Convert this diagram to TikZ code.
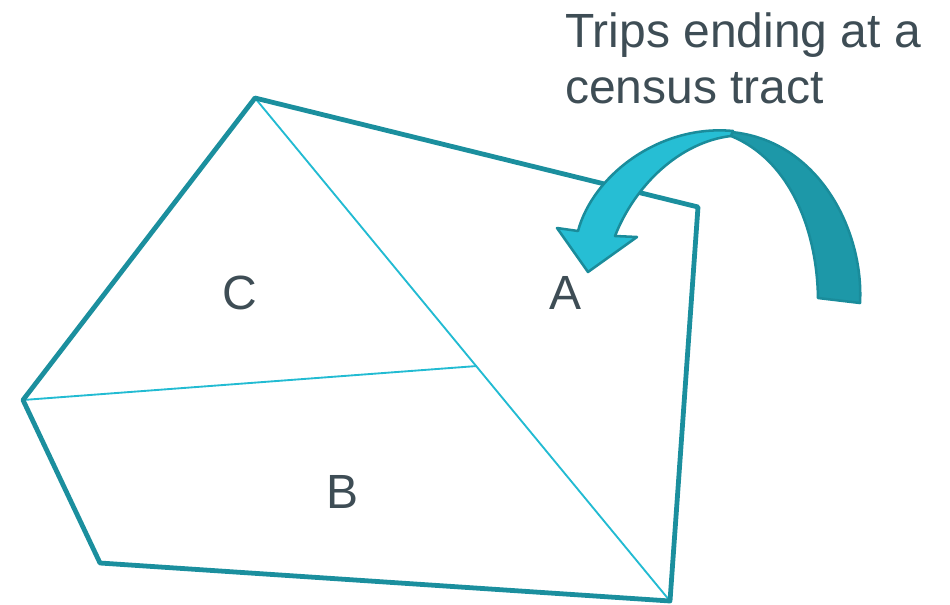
\documentclass[tikz,border=0pt]{standalone}
\usepackage{fontspec}
\setmainfont{Liberation Sans}
\definecolor{outl}{RGB}{27,143,158}
\definecolor{inl}{RGB}{34,187,210}
\definecolor{arrlight}{RGB}{38,190,212}
\definecolor{arrdark}{RGB}{29,152,168}
\definecolor{arrline}{RGB}{26,140,155}
\definecolor{txt}{RGB}{62,77,85}
\begin{document}
\begin{tikzpicture}[x=0.75pt,y=-0.75pt,
  outer/.style={draw=outl,line width=3.6pt,line join=round},
  inner/.style={draw=inl,line width=1.4pt},
  lbl/.style={text=txt,font=\fontsize{36}{43}\selectfont,inner sep=0pt},
  arrpart/.style={draw=arrline,line width=1.9pt,line join=round}]
\useasboundingbox (0,0) rectangle (950,604);
% vertices
\coordinate (p1) at (255,98);
\coordinate (p2) at (698,207);
\coordinate (p3) at (670,601);
\coordinate (p4) at (100,563);
\coordinate (p5) at (23,400);
\coordinate (m) at (477,366);
% inner lines
\draw[inner] (p1) -- (p3);
\draw[inner] (p5) -- (m);
% outline
\draw[outer] (p1) -- (p2) -- (p3) -- (p4) -- (p5) -- cycle;
% labels
\node[lbl] (c) at (240,293) {C};
\node[lbl] (a) at (566,293) {A};
\node[lbl] (b) at (343,492) {B};
\node[lbl,anchor=base west] (t1) at (565,47) {Trips ending at a};
\node[lbl,anchor=base west] (t2) at (565,103) {census tract};
% curved arrow
\filldraw[arrpart,fill=arrdark] (731,132) .. controls (818,140) and (864,230) .. (860,303)
  -- (818,298) .. controls (817,230) and (790,160) .. (731,136) -- cycle;
\filldraw[arrpart,fill=arrlight] (733,131) .. controls (660,124) and (593,175) .. (578,231)
  -- (557,228) -- (588,272) -- (637,237) -- (615,236)
  .. controls (635,185) and (680,142) .. (731,136) -- cycle;
\end{tikzpicture}
\end{document}
